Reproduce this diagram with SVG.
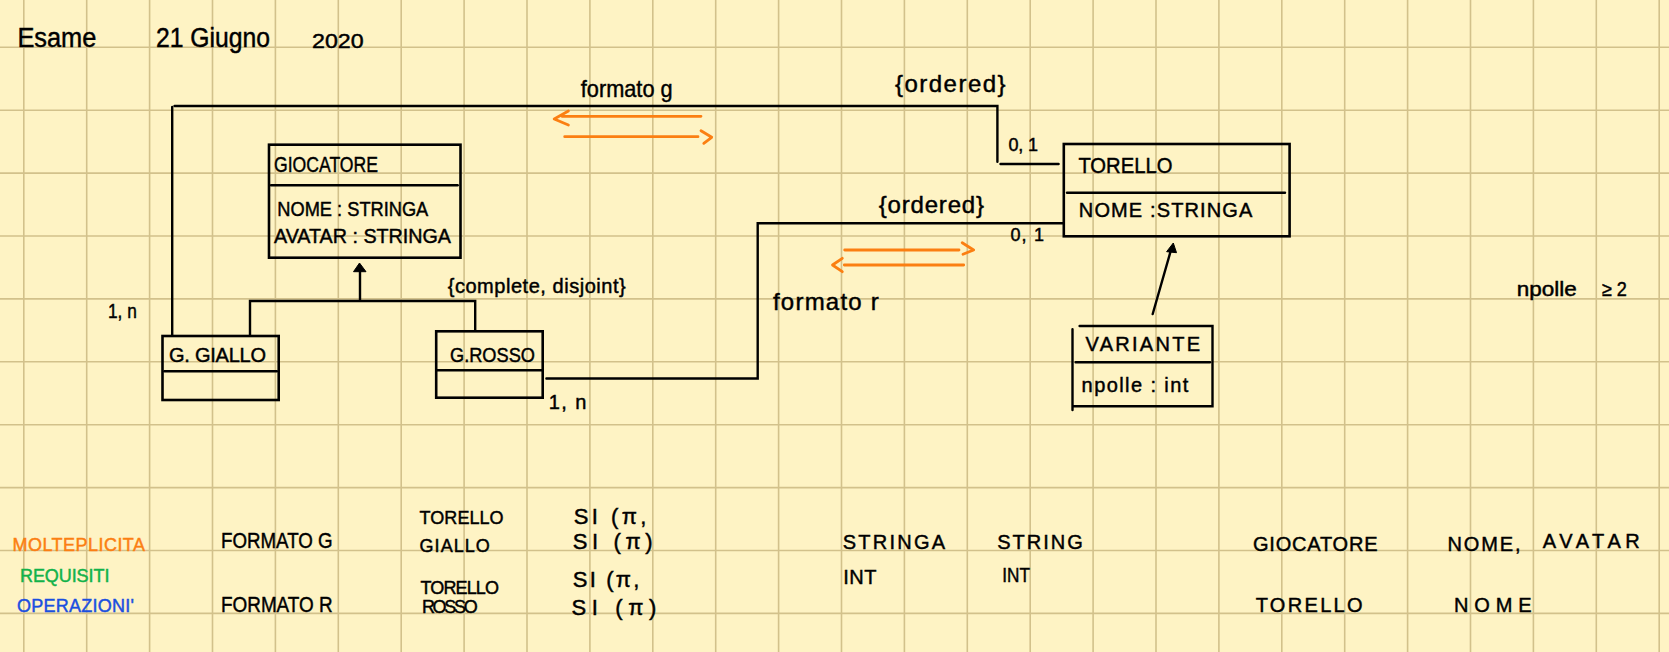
<svg xmlns="http://www.w3.org/2000/svg" width="1669" height="652" viewBox="0 0 1669 652">
<style>
.grid{fill:none;stroke:#d2c18b;stroke-width:1.6}
.box{fill:none;stroke:#000;stroke-width:2.6}
.ln{fill:none;stroke:#000;stroke-width:2.4;stroke-linecap:round;stroke-linejoin:miter}
.or{fill:none;stroke:#fb7f12;stroke-width:2.8;stroke-linecap:round;stroke-linejoin:round}
.hd{fill:#000;stroke:#000;stroke-width:1}
text{font-family:"Liberation Sans","Noto Sans",sans-serif;fill:#000;stroke:#000;stroke-width:.45}
.hw{font-size:22px}
.s18{font-size:18px}.s20{font-size:20px}.s24{font-size:24px}.s26{font-size:27px}
.o{fill:#fb7f12;stroke:#fb7f12}.g{fill:#12b24a;stroke:#12b24a}.b{fill:#1a4fe0;stroke:#1a4fe0}
</style>
<rect width="1669" height="652" fill="#fef3c4"/>
<path class="grid" d="M23.8 0V652M86.7 0V652M149.6 0V652M212.5 0V652M275.4 0V652M338.3 0V652M401.2 0V652M464.1 0V652M527 0V652M589.9 0V652M652.8 0V652M715.7 0V652M778.6 0V652M841.5 0V652M904.4 0V652M967.3 0V652M1030.2 0V652M1093.1 0V652M1156 0V652M1218.9 0V652M1281.8 0V652M1344.7 0V652M1407.6 0V652M1470.5 0V652M1533.4 0V652M1596.3 0V652M1659.2 0V652M0 47.3H1669M0 110.2H1669M0 173.1H1669M0 236H1669M0 298.9H1669M0 361.8H1669M0 424.7H1669M0 487.6H1669M0 550.5H1669M0 613.4H1669"/>

<g id="connectors">
<path class="ln" d="M174.5 106H997.4V161.7M1000.5 164H1058.6M172.2 107V335"/>
<path class="ln" d="M546.4 378.5H757.7V223.3H1063.8"/>
<path class="ln" d="M250 335V301H475.2V330M360 301V271"/>
<path class="hd" d="M359.5 263L366 271.7H353.5Z"/>
<path class="ln" d="M1152.7 314L1170.5 251.7"/>
<path class="hd" d="M1173.3 243L1176.5 252.7L1166.6 251.7Z"/>
<path class="or" d="M562 116.3H701M568.4 111L554.2 119L568.4 125"/>
<path class="or" d="M564.7 136.7H698M701 130.7L711.7 137.3L703.8 143.3"/>
<path class="or" d="M844.7 250H959M962.2 242.7L973.6 250L963 254.3"/>
<path class="or" d="M844.3 265H963.7M842.3 258.3L832.5 265L842.3 271.7"/>
</g>

<g id="giocatore">
<rect class="box" x="269" y="144.7" width="191.5" height="113"/>
<path class="ln" d="M271 185.3H457.7"/>
<text class="hw" x="274" y="172" textLength="104" lengthAdjust="spacingAndGlyphs">GIOCATORE</text>
<text class="s20" x="277.3" y="216" textLength="151" lengthAdjust="spacingAndGlyphs">NOME : STRINGA</text>
<text class="s20" x="274" y="243.3" textLength="177" lengthAdjust="spacingAndGlyphs">AVATAR : STRINGA</text>
</g>
<g id="giallo">
<rect class="box" x="162.5" y="336" width="116.2" height="64"/>
<path class="ln" d="M164.4 371.3H276.9"/>
<text class="s20" x="169" y="362.3" textLength="97" lengthAdjust="spacing">G. GIALLO</text>
</g>
<g id="rosso">
<rect class="box" x="436.2" y="331.3" width="106.5" height="66.4"/>
<path class="ln" d="M437 370.3H542"/>
<text class="s20" x="450" y="361.7" textLength="85" lengthAdjust="spacingAndGlyphs">G.ROSSO</text>
</g>
<g id="torello">
<rect class="box" x="1063.8" y="144" width="225.8" height="92.3"/>
<path class="ln" d="M1067 192.7H1285"/>
<text class="hw" x="1078.4" y="172.7" textLength="94" lengthAdjust="spacingAndGlyphs">TORELLO</text>
<text class="s20" x="1078.8" y="217.3" textLength="173.6" lengthAdjust="spacing">NOME :STRINGA</text>
</g>
<g id="variante">
<path class="ln" d="M1079.6 326H1212.5V406.3H1073.7M1072.5 329.3V410M1075.6 362.3H1210"/>
<text class="s20" x="1085.5" y="350.7" textLength="114.5" lengthAdjust="spacing">VARIANTE</text>
<text class="s20" x="1081.6" y="391.7" textLength="106.7" lengthAdjust="spacing">npolle : int</text>
</g>

<g id="labels">
<text class="s26" x="17.4" y="46.7" textLength="79" lengthAdjust="spacingAndGlyphs">Esame</text>
<text class="s26" x="156" y="47" textLength="114" lengthAdjust="spacingAndGlyphs">21 Giugno</text>
<text class="s20" x="312" y="48" textLength="51.6" lengthAdjust="spacingAndGlyphs">2020</text>
<text class="s24" x="580.8" y="96.7" textLength="91.8" lengthAdjust="spacingAndGlyphs">formato g</text>
<text class="s24" x="895" y="91.7" textLength="110.6" lengthAdjust="spacing">{ordered}</text>
<text class="s18" x="1008.4" y="150.7" textLength="29.6" lengthAdjust="spacing">0, 1</text>
<text class="s24" x="878.7" y="212.7" textLength="105.3" lengthAdjust="spacing">{ordered}</text>
<text class="s18" x="1010.4" y="240.7" textLength="33.6" lengthAdjust="spacing">0, 1</text>
<text class="s24" x="773" y="310" textLength="105.7" lengthAdjust="spacing">formato r</text>
<text class="s20" x="447.7" y="292.7" textLength="178" lengthAdjust="spacing">{complete, disjoint}</text>
<text class="s20" x="108" y="318.3" textLength="28.8" lengthAdjust="spacingAndGlyphs">1, n</text>
<text class="s20" x="548.7" y="409.3" textLength="37.6" lengthAdjust="spacing">1, n</text>
<text class="s20" x="1516.7" y="296" textLength="60" lengthAdjust="spacingAndGlyphs">npolle</text>
<text class="s20" x="1601.7" y="296" textLength="25" lengthAdjust="spacingAndGlyphs">≥ 2</text>

<text class="s18 o" x="12.5" y="550.7" textLength="132.5" lengthAdjust="spacing">MOLTEPLICITA</text>
<text class="s18 g" x="20" y="582.3" textLength="89.4" lengthAdjust="spacing">REQUISITI</text>
<text class="s18 b" x="17" y="612.3" textLength="117" lengthAdjust="spacing">OPERAZIONI'</text>

<text class="hw" x="221" y="548.3" textLength="111.6" lengthAdjust="spacingAndGlyphs">FORMATO G</text>
<text class="s18" x="419.6" y="524.3" textLength="84" lengthAdjust="spacing">TORELLO</text>
<text class="s18" x="419.6" y="551.7" textLength="70.1" lengthAdjust="spacing">GIALLO</text>
<text class="hw" x="573.7" y="524.3" textLength="72.7" lengthAdjust="spacing">SI (π,</text>
<text class="hw" x="572.8" y="549.3" textLength="79.9" lengthAdjust="spacing">SI (π)</text>
<text class="hw" x="221" y="612.3" textLength="111.6" lengthAdjust="spacingAndGlyphs">FORMATO R</text>
<text class="s18" x="420.5" y="594" textLength="78.5" lengthAdjust="spacing">TORELLO</text>
<text class="s18" x="421.9" y="613.3" textLength="55.8" lengthAdjust="spacing">ROSSO</text>
<text class="hw" x="572.8" y="586.7" textLength="66.5" lengthAdjust="spacing">SI (π,</text>
<text class="hw" x="571.4" y="615" textLength="84.9" lengthAdjust="spacing">SI (π)</text>

<text class="s20" x="842.7" y="549" textLength="102.5" lengthAdjust="spacing">STRINGA</text>
<text class="s20" x="997.3" y="548.7" textLength="85.4" lengthAdjust="spacing">STRING</text>
<text class="s20" x="843.2" y="584" textLength="33.3" lengthAdjust="spacing">INT</text>
<text class="s20" x="1002.3" y="581.7" textLength="27.7" lengthAdjust="spacingAndGlyphs">INT</text>
<text class="s20" x="1252.9" y="550.7" textLength="124.7" lengthAdjust="spacing">GIOCATORE</text>
<text class="s20" x="1447.5" y="550.7" textLength="73" lengthAdjust="spacing">NOME,</text>
<text class="s20" x="1542.8" y="548.3" textLength="97" lengthAdjust="spacing">AVATAR</text>
<text class="s20" x="1255.7" y="612.3" textLength="106.9" lengthAdjust="spacing">TORELLO</text>
<text class="s20" x="1454" y="612.3" textLength="77.7" lengthAdjust="spacing">NOME</text>
</g>
</svg>
